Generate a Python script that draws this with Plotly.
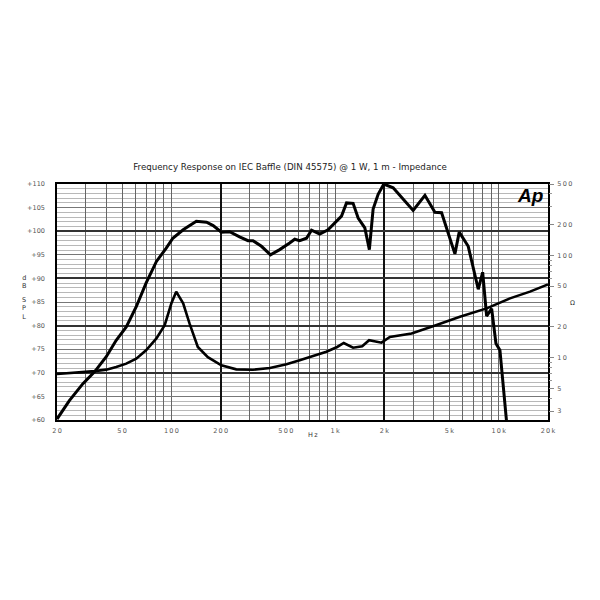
import numpy as np
import plotly.graph_objects as go

# ---------------- data ----------------
spl_freq = [20, 23.8, 28.8, 33.9, 40, 46, 53, 61, 70, 81, 93, 102, 118, 142, 164, 180,
            202, 227, 261, 294, 315, 355, 403, 459, 528, 567, 608, 669, 718, 806, 906,
            995, 1095, 1175, 1289, 1384, 1520, 1620, 1708, 1833, 1986, 2264, 2606, 3000,
            3540, 4074, 4476, 5398, 5736, 6510, 7496, 7976, 8434, 9052, 9616, 10170, 11176]
spl_db = [60.2, 64.1, 67.7, 70.2, 73.4, 76.9, 79.7, 84.0, 89.0, 93.6, 96.4, 98.5, 100.3,
          102.1, 101.9, 101.2, 99.8, 99.9, 98.8, 98.0, 98.0, 96.8, 95.0, 96.1, 97.5, 98.3,
          98.0, 98.5, 100.2, 99.4, 100.3, 101.7, 103.2, 106.0, 105.9, 102.8, 100.7, 96.1,
          104.7, 107.8, 110.0, 109.2, 106.7, 104.4, 107.6, 104.0, 103.9, 95.2, 99.8, 96.8,
          87.7, 91.3, 82.0, 83.6, 76.2, 74.8, 59.5]

imp_freq = [20, 28.8, 33.9, 40, 46, 53, 61, 70, 81, 91, 100, 107, 118, 129, 145, 167, 192,
            202, 249, 315, 400, 505, 608, 770, 885, 1030, 1130, 1289, 1465, 1614, 1833,
            1922, 2162, 2488, 2934, 4172, 5792, 8434, 11714, 15520, 20000]
imp_ohm = [6.9, 7.16, 7.37, 7.62, 8.08, 8.73, 9.77, 11.8, 15.4, 20.8, 34.0, 44.2, 34.0,
           21.6, 12.7, 10.1, 8.73, 8.4, 7.67, 7.6, 7.9, 8.6, 9.4, 10.5, 11.4, 12.7, 13.9,
           12.5, 12.9, 14.8, 14.2, 14.0, 15.9, 16.6, 17.2, 20.8, 25.1, 30.3, 38.0, 44.2, 52.0]

x_label_vals = [20, 50, 100, 200, 500, 1000, 2000, 5000, 10000, 20000]
x_label_text = ["20", "50", "100", "200", "500", "1k", "2k", "5k", "10k", "20k"]
x_major_grid = [200, 2000]
db_ticks = [60, 65, 70, 75, 80, 85, 90, 95, 100, 105, 110]
db_major_grid = [70, 80, 90, 100]
ohm_ticks = [3, 5, 10, 20, 50, 100, 200, 500]
title = "Frequency Response on IEC Baffle (DIN 45575) @ 1 W, 1 m - Impedance"

# ---------------- layout geometry ----------------
W, H = 600, 600
ML, MR, MT, MB = 57, 52, 184, 180
PW, PH = W - ML - MR, H - MT - MB

def px(x):
    return (x - ML) / PW

def py(y):
    return (H - MB - y) / PH

def spaced(s):
    return "\u2009".join(list(s))

x_grid = []
for dec in [10, 100, 1000, 10000]:
    for m in range(1, 10):
        v = m * dec
        if 20 <= v <= 20000:
            x_grid.append(v)
x_text = [spaced(x_label_text[x_label_vals.index(v)]) if v in x_label_vals else "" for v in x_grid]

ohm_minor = []
for dec in [1, 10, 100]:
    for m in range(2, 10):
        v = m * dec
        if 2.5 <= v <= 500 and v not in ohm_ticks:
            ohm_minor.append(v)

tick_font = dict(family="DejaVu Sans", size=6.5, color="#555555")
lab_font = dict(family="DejaVu Sans", size=6.5, color="#333333")

fig = go.Figure()
fig.add_trace(go.Scatter(x=spl_freq, y=spl_db, mode="lines",
                         line=dict(color="black", width=3), xaxis="x", yaxis="y",
                         showlegend=False, hoverinfo="skip"))
fig.add_trace(go.Scatter(x=imp_freq, y=imp_ohm, mode="lines",
                         line=dict(color="black", width=2.6), xaxis="x", yaxis="y2",
                         showlegend=False, hoverinfo="skip"))
fig.add_trace(go.Scatter(x=[], y=[], xaxis="x2", yaxis="y3", showlegend=False))

fig.update_layout(
    width=W, height=H,
    paper_bgcolor="white", plot_bgcolor="white",
    margin=dict(l=ML, r=MR, t=MT, b=MB),
    title=dict(text=title, x=290 / W, xanchor="center", y=1 - 167 / H,
               yanchor="middle", xref="container", yref="container",
               font=dict(family="DejaVu Sans", size=8.7, color="#222222")),
    xaxis=dict(type="log", range=[np.log10(20), np.log10(20000)],
               tickmode="array", tickvals=x_grid, ticktext=x_text,
               showgrid=True, gridcolor="#666666", gridwidth=1,
               ticks="", tickfont=tick_font, ticklabelstandoff=3,
               showline=True, linecolor="black", linewidth=1.5, mirror=True,
               zeroline=False),
    xaxis2=dict(type="log", range=[np.log10(20), np.log10(20000)], overlaying="x",
                tickmode="array", tickvals=x_major_grid, showticklabels=False,
                showgrid=True, gridcolor="#111111", gridwidth=2, ticks="",
                showline=False, zeroline=False),
    yaxis=dict(range=[60, 110], tickmode="array", tickvals=db_ticks,
               ticktext=["+%d" % v for v in db_ticks],
               showgrid=True, gridcolor="#777777", gridwidth=1,
               minor=dict(dtick=1, showgrid=True, gridcolor="#b8b8b8", gridwidth=1),
               ticks="", tickfont=tick_font, ticklabelstandoff=9,
               showline=True, linecolor="black", linewidth=1.5, mirror=True,
               zeroline=False),
    yaxis3=dict(range=[60, 110], overlaying="y", tickmode="array",
                tickvals=db_major_grid, showticklabels=False,
                showgrid=True, gridcolor="#333333", gridwidth=1.5, ticks="",
                showline=False, zeroline=False),
    yaxis2=dict(type="log", range=[np.log10(2.45), np.log10(500)], overlaying="y",
                side="right", tickmode="array", tickvals=ohm_ticks,
                ticktext=[spaced(str(v)) for v in ohm_ticks],
                showgrid=False, ticks="outside", ticklen=5, tickcolor="#888888",
                tickwidth=1, tickfont=tick_font, ticklabelstandoff=2,
                minor=dict(tickmode="array", tickvals=ohm_minor, ticks="outside",
                           ticklen=3, tickcolor="#999999", showgrid=False),
                showline=False, zeroline=False),
    annotations=[
        dict(text="<b><i>Ap</i></b>", xref="paper", yref="paper",
             x=px(530), y=py(195), xanchor="center", yanchor="middle",
             showarrow=False, font=dict(family="Liberation Sans", size=19, color="black")),
        dict(text="d<br>B", x=px(24), y=py(282), xref="paper", yref="paper",
             xanchor="center", yanchor="middle", showarrow=False, font=lab_font),
        dict(text="S<br>P<br>L", x=px(24), y=py(308), xref="paper", yref="paper",
             xanchor="center", yanchor="middle", showarrow=False, font=lab_font),
        dict(text=spaced("Hz"), x=px(313), y=py(435), xref="paper", yref="paper",
             xanchor="center", yanchor="middle", showarrow=False, font=lab_font),
        dict(text="Ω", x=px(572), y=py(303), xref="paper", yref="paper",
             xanchor="center", yanchor="middle", showarrow=False, font=lab_font),
    ],
)
fig.write_html("out.html", config={"displayModeBar": False},
               post_script="document.body.style.margin='0';")
